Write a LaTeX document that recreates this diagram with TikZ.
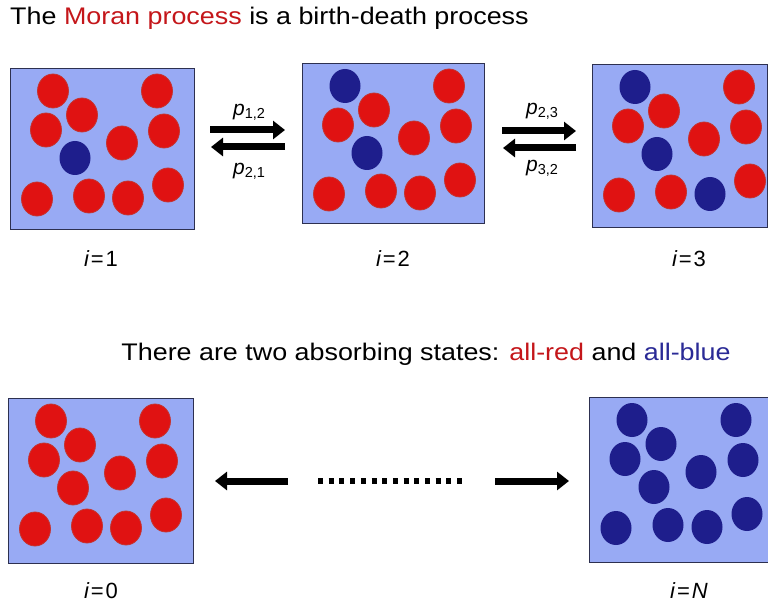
\documentclass[tikz,border=0pt]{standalone}
\usepackage{fontspec}
\setmainfont{Liberation Sans}
\usetikzlibrary{arrows.meta}

\definecolor{boxfill}{RGB}{152,170,244}
\definecolor{boxline}{RGB}{45,48,80}
\definecolor{cellred}{RGB}{224,18,18}
\definecolor{cellredline}{RGB}{196,52,48}
\definecolor{cellblue}{RGB}{30,30,140}
\definecolor{textred}{RGB}{196,22,26}
\definecolor{textblue}{RGB}{42,42,150}

% eleven individuals, at the same places in every box
\newcommand{\population}[2]{%
  \foreach \col [count=\k from 0] in {#2} {
    \pgfmathsetmacro{\cx}{{43,147,72,36,154,112,65,27,79,118,158}[\k]}
    \pgfmathsetmacro{\cy}{{23,23,47,62,63,75,90,131,128,130,117}[\k]}
    \path[cell\col] ([shift={(\cx,\cy)}]#1.north west) ellipse [x radius=15.5pt, y radius=17pt];
  }}
\newcommand{\prob}[1]{{\itshape p}\raisebox{-3pt}{\fontsize{14.5}{15}\selectfont #1}}

\begin{document}
\begin{tikzpicture}[
  x=1pt, y=-1pt,
  box/.style={draw=boxline, line width=1.4pt, fill=boxfill, anchor=north west, inner sep=0pt},
  cellR/.style={fill=cellred, draw=cellredline, line width=0.8pt},
  cellB/.style={fill=cellblue},
  headline/.style={font=\fontsize{24}{28}\selectfont, xscale=1.12, inner sep=0pt},
  state/.style={font=\fontsize{22}{26}\selectfont, anchor=base, inner sep=0pt},
  rate/.style={font=\fontsize{21}{24}\selectfont, inner sep=0pt},
  arrow/.style={-{Triangle[width=18pt,length=12pt]}, line width=7pt}
]
  \useasboundingbox (0,0) rectangle (768,604);
  \clip (0,0) rectangle (768,604);

  \node[headline, anchor=base west] (title) at (10,25)
    {The \textcolor{textred}{Moran process} is a birth-death process};

  % the chain i=1,2,3
  \node[box, minimum width=184pt, minimum height=161pt] (b1) at (10,68) {};
  \node[box, minimum width=182pt, minimum height=160pt] (b2) at (302,63) {};
  \node[box, minimum width=175pt, minimum height=163pt] (b3) at (592,64) {};
  \population{b1}{R,R,R,R,R,R,B,R,R,R,R}
  \population{b2}{B,R,R,R,R,R,B,R,R,R,R}
  \population{b3}{B,R,R,R,R,R,B,R,R,B,R}

  \node[state] (s1) at (101,266) {{\itshape i}\hspace{2pt}=\hspace{2pt}1};
  \node[state] (s2) at (393,266) {{\itshape i}\hspace{2pt}=\hspace{2pt}2};
  \node[state] (s3) at (689,266) {{\itshape i}\hspace{2pt}=\hspace{2pt}3};

  \node[rate] (p12) at (249,112) {\prob{1,2}};
  \node[rate] (p21) at (249,171) {\prob{2,1}};
  \node[rate] (p23) at (542,111) {\prob{2,3}};
  \node[rate] (p32) at (542,168) {\prob{3,2}};

  \coordinate (f12a) at (210,130); \coordinate (f12b) at (285,130);
  \coordinate (f21a) at (285,147); \coordinate (f21b) at (211,147);
  \coordinate (f23a) at (502,131); \coordinate (f23b) at (576,131);
  \coordinate (f32a) at (576,148); \coordinate (f32b) at (503,148);
  \draw[arrow] (f12a) -- (f12b);
  \draw[arrow] (f21a) -- (f21b);
  \draw[arrow] (f23a) -- (f23b);
  \draw[arrow] (f32a) -- (f32b);

  % absorbing states
  \node[headline, anchor=base] (note) at (426,360)
    {There are two absorbing states: \textcolor{textred}{all-red} and \textcolor{textblue}{all-blue}};

  \node[box, minimum width=185pt, minimum height=165pt] (b0) at (8,398) {};
  \node[box, minimum width=185pt, minimum height=165pt] (bN) at (589,397) {};
  \population{b0}{R,R,R,R,R,R,R,R,R,R,R}
  \population{bN}{B,B,B,B,B,B,B,B,B,B,B}

  \node[state] (s0) at (101,598) {{\itshape i}\hspace{2pt}=\hspace{2pt}0};
  \node[state] (sN) at (689,598) {{\itshape i}\hspace{2pt}=\hspace{2pt}{\itshape N}};

  \coordinate (back) at (288,481); \coordinate (lost) at (215,481);
  \coordinate (dotsa) at (318,481); \coordinate (dotsb) at (466,481);
  \coordinate (ahead) at (495,481); \coordinate (won) at (569,481);
  \draw[arrow] (back) -- (lost);
  \draw[line width=6pt, dash pattern=on 5pt off 5.7pt] (dotsa) -- (dotsb);
  \draw[arrow] (ahead) -- (won);
\end{tikzpicture}
\end{document}
